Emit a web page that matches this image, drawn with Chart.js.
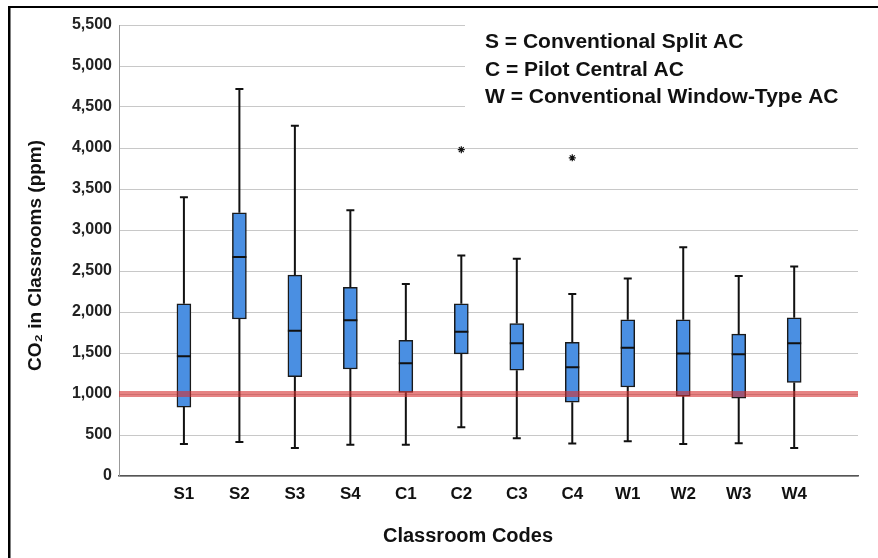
<!DOCTYPE html>
<html>
<head>
<meta charset="utf-8">
<script src="https://cdn.jsdelivr.net/npm/chart.js@4.4.0/dist/chart.umd.min.js"></script>
<style>
  html, body { margin: 0; padding: 0; background: #fff; }
  #wrap { position: relative; width: 878px; height: 558px; }
</style>
</head>
<body>
<div id="wrap"><canvas id="myChart" width="878" height="558"></canvas></div>
<script>
// classroom codes and box plot stats (ppm)
var codes    = ['S1', 'S2', 'S3', 'S4', 'C1', 'C2', 'C3', 'C4', 'W1', 'W2', 'W3', 'W4'];
var minVals  = [390, 415, 340, 380, 380, 595, 460, 395, 425, 390, 400, 340];
var q1Vals   = [840, 1915, 1210, 1305, 1020, 1490, 1290, 900, 1085, 975, 950, 1140];
var medVals  = [1460, 2670, 1770, 1900, 1375, 1760, 1620, 1325, 1565, 1495, 1485, 1620];
var q3Vals   = [2100, 3210, 2450, 2300, 1655, 2100, 1860, 1630, 1905, 1905, 1730, 1930];
var maxVals  = [3400, 4720, 4270, 3240, 2340, 2690, 2650, 2220, 2410, 2790, 2440, 2555];
var outlierCodes = ['C2', 'C4'];
var outlierVals  = [3980, 3880];
var limitValue = 1000;
var yMin = 0, yMax = 5500, yStep = 500;
var xMin = -1.17, xMax = 12.15;
var keyLines = ['S = Conventional Split AC', 'C = Pilot Central AC', 'W = Conventional Window-Type AC'];
var xTitle = 'Classroom Codes';
var yTitle = 'CO\u2082 in Classrooms (ppm)';

var FONT = "'Liberation Sans', Arial, sans-serif";

var boxData = codes.map(function(c, i) {
	return { x: i, y: [q1Vals[i], q3Vals[i]] };
});
var outlierData = outlierCodes.map(function(c, i) {
	return { x: codes.indexOf(c), y: outlierVals[i] };
});
var limitData = [{ x: xMin, y: limitValue }, { x: xMax, y: limitValue }];

var boxPlugin = {
	id: 'boxExtras',
	beforeDraw: function(chart) {
		var ctx = chart.ctx;
		ctx.save();
		ctx.fillStyle = '#fff';
		ctx.fillRect(0, 0, chart.width, chart.height);
		ctx.restore();
	},
	beforeDatasetsDraw: function(chart) {
		// white box behind the key text hides the grid there
		var ctx = chart.ctx;
		ctx.save();
		ctx.fillStyle = '#fff';
		ctx.fillRect(465, 16, 400, 97);
		ctx.restore();
	},
	afterDatasetDraw: function(chart, args) {
		if (args.index !== 0) return;
		var ctx = chart.ctx, xs = chart.scales.x, ys = chart.scales.y;
		var bars = chart.getDatasetMeta(0).data;
		ctx.save();
		ctx.strokeStyle = '#111';
		ctx.lineWidth = 2;
		codes.forEach(function(c, i) {
			var x = xs.getPixelForValue(i);
			var half = bars[i].width / 2;
			var cap = 4;
			ctx.beginPath();
			// lower whisker
			ctx.moveTo(x, ys.getPixelForValue(q1Vals[i]));
			ctx.lineTo(x, ys.getPixelForValue(minVals[i]));
			ctx.moveTo(x - cap, ys.getPixelForValue(minVals[i]));
			ctx.lineTo(x + cap, ys.getPixelForValue(minVals[i]));
			// upper whisker
			ctx.moveTo(x, ys.getPixelForValue(q3Vals[i]));
			ctx.lineTo(x, ys.getPixelForValue(maxVals[i]));
			ctx.moveTo(x - cap, ys.getPixelForValue(maxVals[i]));
			ctx.lineTo(x + cap, ys.getPixelForValue(maxVals[i]));
			// median
			ctx.moveTo(x - half, ys.getPixelForValue(medVals[i]));
			ctx.lineTo(x + half, ys.getPixelForValue(medVals[i]));
			ctx.stroke();
		});
		ctx.restore();
	},
	afterDraw: function(chart) {
		var ctx = chart.ctx, area = chart.chartArea;
		ctx.save();
		ctx.fillStyle = '#111';
		ctx.font = 'bold 21px ' + FONT;
		ctx.textAlign = 'left';
		ctx.textBaseline = 'alphabetic';
		keyLines.forEach(function(t, i) {
			ctx.fillText(t, 485, 48 + i * 27.5);
		});
		ctx.font = 'bold 20px ' + FONT;
		ctx.textAlign = 'center';
		ctx.fillText(xTitle, 468, 542);
		ctx.translate(41, (area.top + area.bottom) / 2 + 5);
		ctx.rotate(-Math.PI / 2);
		ctx.font = 'bold 19px ' + FONT;
		ctx.fillText(yTitle, 0, 0);
		ctx.restore();
		// figure frame
		ctx.save();
		ctx.fillStyle = '#000';
		ctx.fillRect(8, 6, 870, 2);
		ctx.fillRect(8, 6, 2.5, 552);
		ctx.restore();
	}
};

var ctx = document.getElementById('myChart').getContext('2d');

var myChart = new Chart(ctx, {
	type: 'bar',
	data: {
		datasets: [
			{
				type           : 'bar',
				data           : boxData,
				backgroundColor: '#4a8fe2',
				borderColor    : '#1a1a1a',
				borderWidth    : 1.5,
				borderSkipped  : false,
				barThickness   : 14,
				order          : 3
			},
			{
				type           : 'line',
				data           : limitData,
				borderColor    : 'rgba(214, 48, 48, 0.6)',
				borderWidth    : 6,
				pointRadius    : 0,
				order          : 2
			},
			{
				type           : 'line',
				data           : outlierData,
				showLine       : false,
				pointStyle     : 'star',
				pointRadius    : 3.5,
				borderColor    : '#111',
				borderWidth    : 1.2,
				order          : 1
			}
		]
	},
	options: {
		responsive: false,
		animation: false,
		layout: { padding: { top: 25, right: 20, left: 0, bottom: 0 } },
		plugins: {
			legend: { display: false },
			tooltip: { enabled: false }
		},
		scales: {
			x: {
				type: 'linear',
				min: xMin,
				max: xMax,
				offset: false,
				grid: { display: false, drawTicks: false, offset: false },
				border: { color: '#555', width: 1.5 },
				afterBuildTicks: function(scale) {
					scale.ticks = codes.map(function(c, i) { return { value: i }; });
				},
				afterFit: function(scale) { scale.height = 82; },
				ticks: {
					autoSkip: false,
					maxRotation: 0,
					padding: 8,
					color: '#111',
					font: { family: FONT, size: 17, weight: 'bold' },
					callback: function(v) { return codes[v]; }
				}
			},
			y: {
				min: yMin,
				max: yMax,
				grid: { color: '#c8c8c8', drawTicks: false },
				border: { color: '#999' },
				afterFit: function(scale) { scale.width = 119; },
				ticks: {
					stepSize: yStep,
					padding: 7,
					color: '#222',
					font: { family: FONT, size: 16, weight: 'bold' },
					callback: function(v) { return v.toLocaleString('en-US'); }
				}
			}
		}
	},
	plugins: [boxPlugin]
});
</script>
</body>
</html>
